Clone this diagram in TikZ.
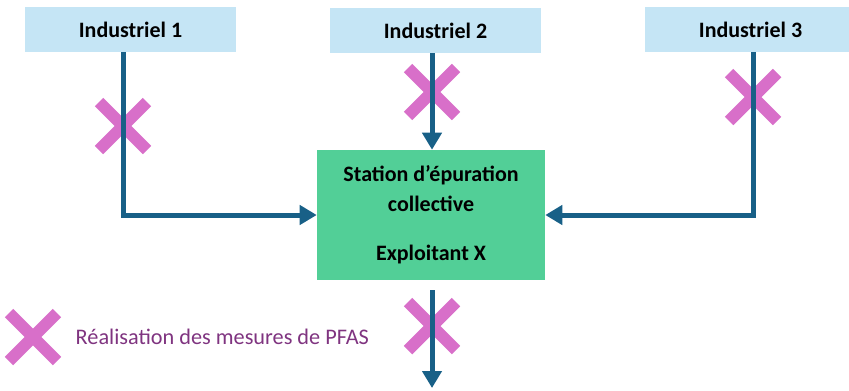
\documentclass[tikz,border=0pt]{standalone}
\usepackage{fontspec}
\setmainfont{Carlito}
\usetikzlibrary{arrows.meta,shapes.misc}
\definecolor{indblue}{HTML}{C5E5F5}
\definecolor{stagreen}{HTML}{52CF97}
\definecolor{pipeblue}{HTML}{186087}
\definecolor{crosspink}{HTML}{D86FC9}
\definecolor{legpurple}{HTML}{7F3480}
\begin{document}
\begin{tikzpicture}[x=0.75pt,y=-0.75pt,
    ind/.style={rectangle,fill=indblue,minimum width=158.25pt,minimum height=33.75pt,inner sep=0pt,font=\bfseries\fontsize{16.5}{20}\selectfont},
    station/.style={rectangle,fill=stagreen,minimum width=171pt,minimum height=97.5pt,align=center,font=\bfseries\fontsize{16.5}{22.5}\selectfont},
    meas/.style={cross out,draw=crosspink,line width=9pt,minimum size=27pt,inner sep=0pt},
    flow/.style={draw=pipeblue,line width=3.75pt,-{Triangle[length=12.75pt,width=14.25pt]}},
    legend/.style={anchor=west,text=legpurple,font=\fontsize{16.7}{20}\selectfont}]
  \useasboundingbox (0,0) rectangle (849,390);
  \node[ind] (ind1) at (130.5,29.5) {Industriel 1}; % source 1
  \node[ind] (ind2) at (435.5,30.5) {Industriel 2}; % source 2
  \node[ind] (ind3) at (750.5,29.5) {Industriel 3}; % source 3
  \node[station] (sta) at (431,215) {Station d’épuration\\collective\\[14.25pt]Exploitant X}; % collective plant
  \node[meas] (x1) at (123,126) {}; % measure points
  \node[meas] (x2) at (432,92) {};
  \node[meas] (x3) at (753,97) {};
  \node[meas] (x4) at (432,326) {};
  \coordinate (out) at (432,388); % outlet
  \draw[flow] (x1 |- ind1.south) |- (sta.west); % ind1 -> station
  \draw[flow] (x2 |- ind2.south) -- (x2 |- sta.north); % ind2 -> station
  \draw[flow] (x3 |- ind3.south) |- (sta.east); % ind3 -> station
  \draw[flow] ([yshift=-7.5pt]x4 |- sta.south) -- (out); % station -> outlet
  \node[meas] (xleg) at (33,337) {}; % legend
  \node[legend] (leg) at (71,337) {Réalisation des mesures de PFAS};
\end{tikzpicture}
\end{document}
